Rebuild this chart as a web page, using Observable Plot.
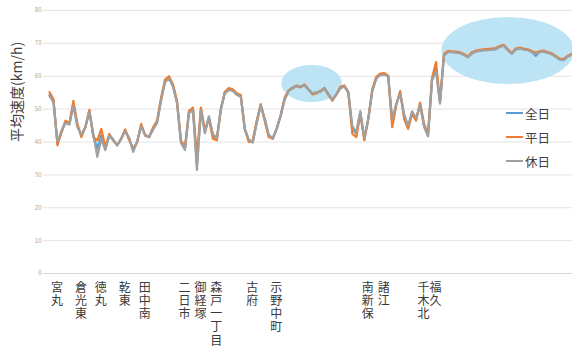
<!DOCTYPE html>
<html>
<head>
<meta charset="utf-8">
<script src="https://cdn.jsdelivr.net/npm/d3@7"></script>
<script src="https://cdn.jsdelivr.net/npm/@observablehq/plot@0.6"></script>
<style>
  body { margin: 0; background: #fff; font-family: "Noto Sans CJK JP", sans-serif; }
  #chart { position: relative; width: 572px; height: 356px; overflow: hidden; }
  .legend { position: absolute; left: 506px; top: 101px; font-size: 12.5px; color: #404040; }
  .legend div { height: 24px; display: flex; align-items: center; }
  .legend .sw { display: inline-block; width: 17px; height: 2px; margin-right: 2px; }
</style>
</head>
<body>
<div id="chart"></div>
<script>
// Average speed along the route, sampled point by point (km/h)
const seriesNames = ["全日", "平日", "休日"];
const seriesColors = ["#5b9bd5", "#ed7d31", "#a0a0a0"];

const allDays = [
  54.4, 52.5, 39.5, 43, 46, 45.5, 51.8, 45, 42, 44.5,
  49.5, 42, 38, 42, 38, 42, 40.5, 39, 41, 43.5,
  41, 37.5, 40, 45, 42, 41.5, 44, 46, 53, 58.5,
  59.5, 57, 52, 40, 38, 49, 50, 33, 50, 43,
  47.5, 42, 41, 50, 55, 56, 55.7, 54.5, 54, 44,
  40.5, 40, 46, 51.3, 47, 42, 41, 44, 48, 53,
  55.6, 56.5, 57, 56.8, 57.3, 56, 54.7, 55, 55.4, 56.4,
  54.5, 52.8, 54.5, 56.5, 57, 55, 44, 42.5, 49, 41,
  47, 55.6, 59.5, 60.5, 60.7, 60, 46, 51.4, 55, 48,
  44.5, 49, 47, 51.5, 45, 42, 59, 62.5, 52, 66.5,
  67.4, 67.4, 67.3, 67.1, 66.6, 65.8, 67, 67.6, 67.8, 68,
  68, 68.2, 68.3, 69, 69.4, 68, 66.9, 68.2, 68.5, 68.2,
  68, 67.5, 66.2, 67.4, 67.6, 67.2, 66.8, 66, 65.2, 65,
  66, 66.6
];

const weekdays = [
  55.2, 53, 39, 43, 46.5, 45.8, 52.5, 45.5, 41.5, 44.5,
  49.8, 41.5, 40.5, 44, 38.5, 42.5, 40.5, 39, 41, 43.8,
  40.5, 38, 40, 45.5, 42, 41.5, 44.5, 46.5, 53.5, 59,
  60, 57.5, 52.5, 40.5, 38.5, 49.5, 50.5, 35.5, 50.5, 43.5,
  47, 41, 40.5, 50, 55.3, 56.4, 56, 54.8, 54.3, 44,
  40, 40.5, 46.5, 51.5, 46.5, 41.5, 41, 44, 48, 53.5,
  55.7, 56.3, 57.2, 56.6, 57.5, 56, 54.5, 54.8, 55.6, 56.2,
  54.3, 52.6, 54.5, 56.8, 57.2, 55.2, 42.5, 41.5, 48.5, 40.5,
  47, 56, 59.8, 60.8, 61, 60.2, 44.5, 51, 55.5, 47,
  44, 48.5, 46.5, 52, 45.5, 42.5, 59.5, 64.3, 52.5, 66.8,
  67.7, 67.6, 67.5, 67.3, 66.8, 66, 67.3, 67.8, 68, 68.2,
  68.3, 68.4, 68.6, 69.2, 69.6, 68.3, 67.1, 68.4, 68.7, 68.4,
  68.2, 67.7, 67.2, 67.6, 67.8, 67.4, 67, 66.2, 65.4, 65.2,
  66.2, 66.8
];

const holidays = [
  54, 52, 40, 43.5, 45.8, 45.3, 51, 44.5, 42.3, 44.5,
  49.2, 42.3, 35.5, 41, 37.5, 42, 40.8, 39, 41.2, 43.2,
  41.3, 37, 40.3, 44.7, 42.3, 41.5, 43.8, 45.8, 52.6, 58.2,
  59.3, 56.8, 51.8, 39.7, 37.6, 48.7, 49.7, 31.5, 49.5, 42.7,
  47.8, 42.4, 41.3, 50, 54.8, 55.8, 55.5, 54.3, 53.8, 44,
  40.8, 39.8, 45.7, 51.1, 47.2, 42.3, 41.1, 44, 48, 52.7,
  55.5, 56.6, 56.9, 56.9, 57.2, 56, 54.8, 55.1, 55.3, 56.5,
  54.6, 52.9, 54.5, 56.3, 56.9, 54.9, 44.8, 43, 49.4, 41.3,
  47, 55.4, 59.3, 60.3, 60.5, 59.9, 47, 51.6, 54.7, 48.5,
  45, 49.3, 47.3, 51.2, 44.6, 41.7, 58.7, 61.5, 51.7, 66.3,
  67.3, 67.3, 67.2, 67, 66.5, 65.7, 66.9, 67.5, 67.7, 67.9,
  67.9, 68.1, 68.2, 68.9, 69.3, 67.9, 66.8, 68.1, 68.4, 68.1,
  67.9, 67.4, 66.8, 67.3, 67.5, 67.1, 66.7, 65.9, 65.1, 64.9,
  65.9, 66.5
];

// Stop names and the sample index where each one sits
const stopIndex = [2, 8, 13, 19, 24, 34, 38, 42, 51, 57, 80, 84, 94, 97];
const stopNames = ["宮丸", "倉光東", "徳丸", "乾東", "田中南", "二日市", "御経塚", "森戸一丁目",
                   "古府", "示野中町", "南新保", "諸江", "千木北", "福久"];

const yTicks = [0, 10, 20, 30, 40, 50, 60, 70, 80];

// Highlighted stretches (sample index range, speed range)
const hlFrom = [58.3, 98.5];
const hlTo = [73.5, 131.8];
const hlLow = [52.0, 57.5];
const hlHigh = [63.3, 77.9];

const toRows = (vals) => vals.map((v, i) => ({i, v}));

function highlights(index, scales) {
  const g = d3.create("svg:g");
  for (let k = 0; k < hlFrom.length; k++) {
    const x1 = scales.x(hlFrom[k]), x2 = scales.x(hlTo[k]);
    const y1 = scales.y(hlLow[k]), y2 = scales.y(hlHigh[k]);
    g.append("ellipse")
      .attr("cx", (x1 + x2) / 2)
      .attr("cy", (y1 + y2) / 2)
      .attr("rx", Math.abs(x2 - x1) / 2)
      .attr("ry", Math.abs(y1 - y2) / 2)
      .attr("fill", "#bde4f5");
  }
  return g.node();
}

// Stop names set vertically under the baseline
function stopLabels(index, scales) {
  const g = d3.create("svg:g")
    .attr("font-size", 12)
    .attr("fill", "#3a3a3a")
    .attr("font-family", "'Noto Sans CJK JP', sans-serif");
  const y0 = scales.y(0) + 8;
  stopIndex.forEach((i, k) => {
    g.append("text")
      .attr("x", scales.x(i))
      .attr("y", y0)
      .attr("text-anchor", "start")
      .style("writing-mode", "vertical-rl")
      .style("text-orientation", "upright")
      .style("letter-spacing", "1.3px")
      .text(stopNames[k]);
  });
  return g.node();
}

const chart = Plot.plot({
  width: 572,
  height: 356,
  marginLeft: 43,
  marginRight: 0,
  marginTop: 10,
  marginBottom: 83,
  style: {fontSize: "6px", color: "#a6a6a6", fontFamily: "'Noto Sans CJK JP', sans-serif", background: "#fff"},
  x: {domain: [0, allDays.length - 1], range: [49, 571], axis: null},
  y: {domain: [0, 80], ticks: yTicks, tickSize: 0, tickPadding: 2, label: null, tickFormat: d => d},
  marks: [
    Plot.ruleY(yTicks, {stroke: "#e4e4e4", strokeWidth: 1}),
    Plot.ruleY([0], {stroke: "#d6d6d6", strokeWidth: 1.2}),
    highlights,
    Plot.line(toRows(allDays), {x: "i", y: "v", stroke: seriesColors[0], strokeWidth: 2.2}),
    Plot.line(toRows(weekdays), {x: "i", y: "v", stroke: seriesColors[1], strokeWidth: 2.2}),
    Plot.line(toRows(holidays), {x: "i", y: "v", stroke: seriesColors[2], strokeWidth: 2.2}),
    stopLabels,
    Plot.text(["平均速度(km/h)"], {
      text: d => d, frameAnchor: "left", rotate: -90, dx: -26,
      fontSize: 14, fill: "#404040"
    })
  ]
});

const host = document.getElementById("chart");
host.appendChild(chart);

// Legend drawn over the right side of the plot
const legend = document.createElement("div");
legend.className = "legend";
seriesNames.forEach((name, k) => {
  const row = document.createElement("div");
  const sw = document.createElement("span");
  sw.className = "sw";
  sw.style.background = seriesColors[k];
  row.appendChild(sw);
  row.appendChild(document.createTextNode(name));
  legend.appendChild(row);
});
host.appendChild(legend);
</script>
</body>
</html>
